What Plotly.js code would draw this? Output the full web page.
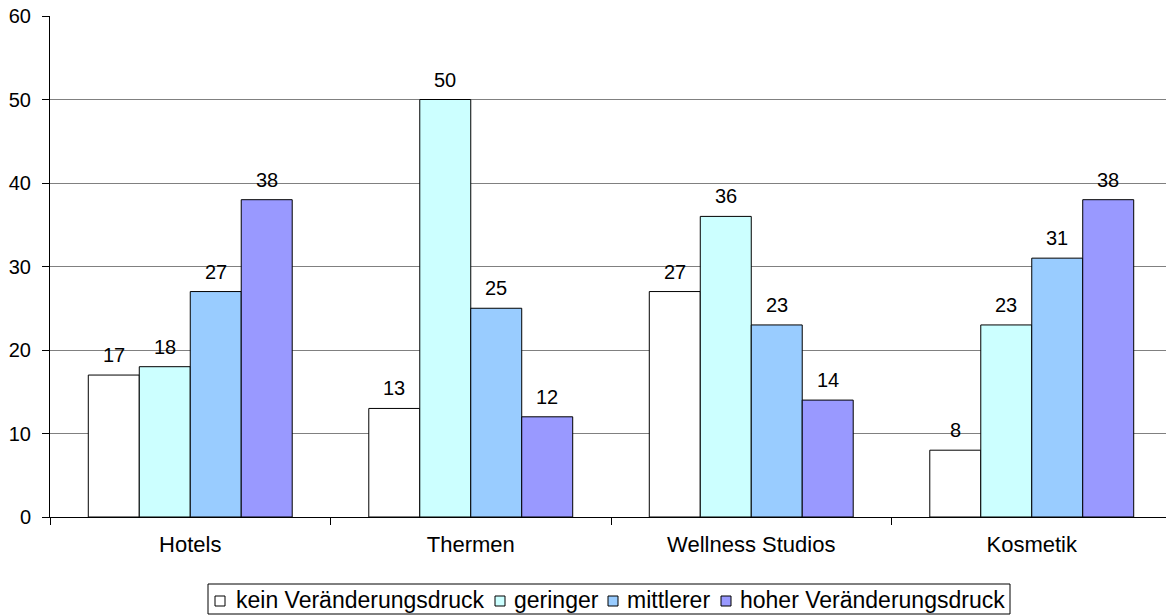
<!DOCTYPE html>
<html>
<head>
<meta charset="utf-8">
<script src="https://cdn.plot.ly/plotly-3.0.1.min.js"></script>
<style>
  html, body { margin: 0; padding: 0; background: #ffffff; }
  #chart { width: 1166px; height: 615px; }
</style>
</head>
<body>
<div id="chart"></div>
<script>
// Categories and series
var categories = ['Hotels', 'Thermen', 'Wellness Studios', 'Kosmetik'];
var seriesNames = ['kein Veränderungsdruck', 'geringer', 'mittlerer', 'hoher Veränderungsdruck'];
var keinValues = [17, 13, 27, 8];
var geringerValues = [18, 50, 36, 23];
var mittlererValues = [27, 25, 23, 31];
var hoherValues = [38, 12, 14, 38];
var yTickValues = [0, 10, 20, 30, 40, 50, 60];

var seriesValues = [keinValues, geringerValues, mittlererValues, hoherValues];
var seriesColors = ['#ffffff', '#ccffff', '#99ccff', '#9999ff'];

var W = 1166, H = 615;
var M = { l: 50, r: 0, t: 16, b: 98 };
var plotW = W - M.l - M.r;
var plotH = H - M.t - M.b;
var BARGAP = 0.273;

// pixel -> paper helpers for the legend box
function px(x) { return (x - M.l) / plotW; }
function py(y) { return (H - M.b - y) / plotH; }

var font = 'Liberation Sans, Arial, sans-serif';

var traces = seriesValues.map(function (vals, i) {
  return {
    type: 'bar',
    name: seriesNames[i],
    x: categories,
    y: vals,
    marker: { color: seriesColors[i], line: { color: '#000000', width: 1 } },
    showlegend: false,
    hoverinfo: 'x+y+name'
  };
});

// value labels above every bar
var annotations = [];
var nSeries = seriesValues.length;
var barW = (1 - BARGAP) / nSeries;
seriesValues.forEach(function (vals, i) {
  var off = -(1 - BARGAP) / 2 + barW * (i + 0.5);
  vals.forEach(function (v, j) {
    annotations.push({
      x: j + off, y: v, xref: 'x', yref: 'y',
      text: String(v), showarrow: false,
      xanchor: 'center', yanchor: 'bottom', yshift: 7,
      font: { family: font, size: 20, color: '#000000' }
    });
  });
});

// legend: framed box with square swatches
var legendSymbolX = [215, 495, 608, 721];
var legendTextX = [234, 512, 625, 738];
var legendY0 = 596, legendY1 = 606;
var shapes = [{
  type: 'rect', xref: 'paper', yref: 'paper',
  x0: px(208), x1: px(1010), y0: py(584), y1: py(614),
  line: { color: '#000000', width: 1 }, fillcolor: 'rgba(0,0,0,0)'
}];
seriesNames.forEach(function (name, i) {
  shapes.push({
    type: 'rect', xref: 'paper', yref: 'paper',
    x0: px(legendSymbolX[i]), x1: px(legendSymbolX[i] + 10),
    y0: py(legendY0), y1: py(legendY1),
    line: { color: '#000000', width: 1 }, fillcolor: seriesColors[i]
  });
  annotations.push({
    xref: 'paper', yref: 'paper',
    x: px(legendTextX[i]), y: py(600),
    text: name, showarrow: false,
    xanchor: 'left', yanchor: 'middle',
    font: { family: font, size: 23, color: '#000000' }
  });
});

var layout = {
  width: W, height: H,
  margin: M,
  paper_bgcolor: '#ffffff',
  plot_bgcolor: '#ffffff',
  barmode: 'group',
  bargap: BARGAP,
  bargroupgap: 0,
  showlegend: false,
  font: { family: font, color: '#000000' },
  xaxis: {
    type: 'category',
    range: [-0.5, 3.5 - 6 / 280.5],
    tickson: 'boundaries',
    ticks: 'outside', ticklen: 7, tickcolor: '#000000', tickwidth: 1,
    showline: true, linecolor: '#000000', linewidth: 1,
    showgrid: false,
    tickfont: { family: font, size: 22, color: '#000000' },
    ticklabelstandoff: 8,
    fixedrange: true
  },
  yaxis: {
    range: [0, 60],
    tickvals: yTickValues,
    ticks: 'outside', ticklen: 7, tickcolor: '#000000', tickwidth: 1,
    showline: true, linecolor: '#000000', linewidth: 1,
    showgrid: true, gridcolor: '#808080', gridwidth: 1,
    zeroline: false,
    tickfont: { family: font, size: 20, color: '#000000' },
    ticklabelstandoff: 7,
    fixedrange: true
  },
  shapes: shapes,
  annotations: annotations
};

Plotly.newPlot('chart', traces, layout, { displayModeBar: false, staticPlot: true });
</script>
</body>
</html>
